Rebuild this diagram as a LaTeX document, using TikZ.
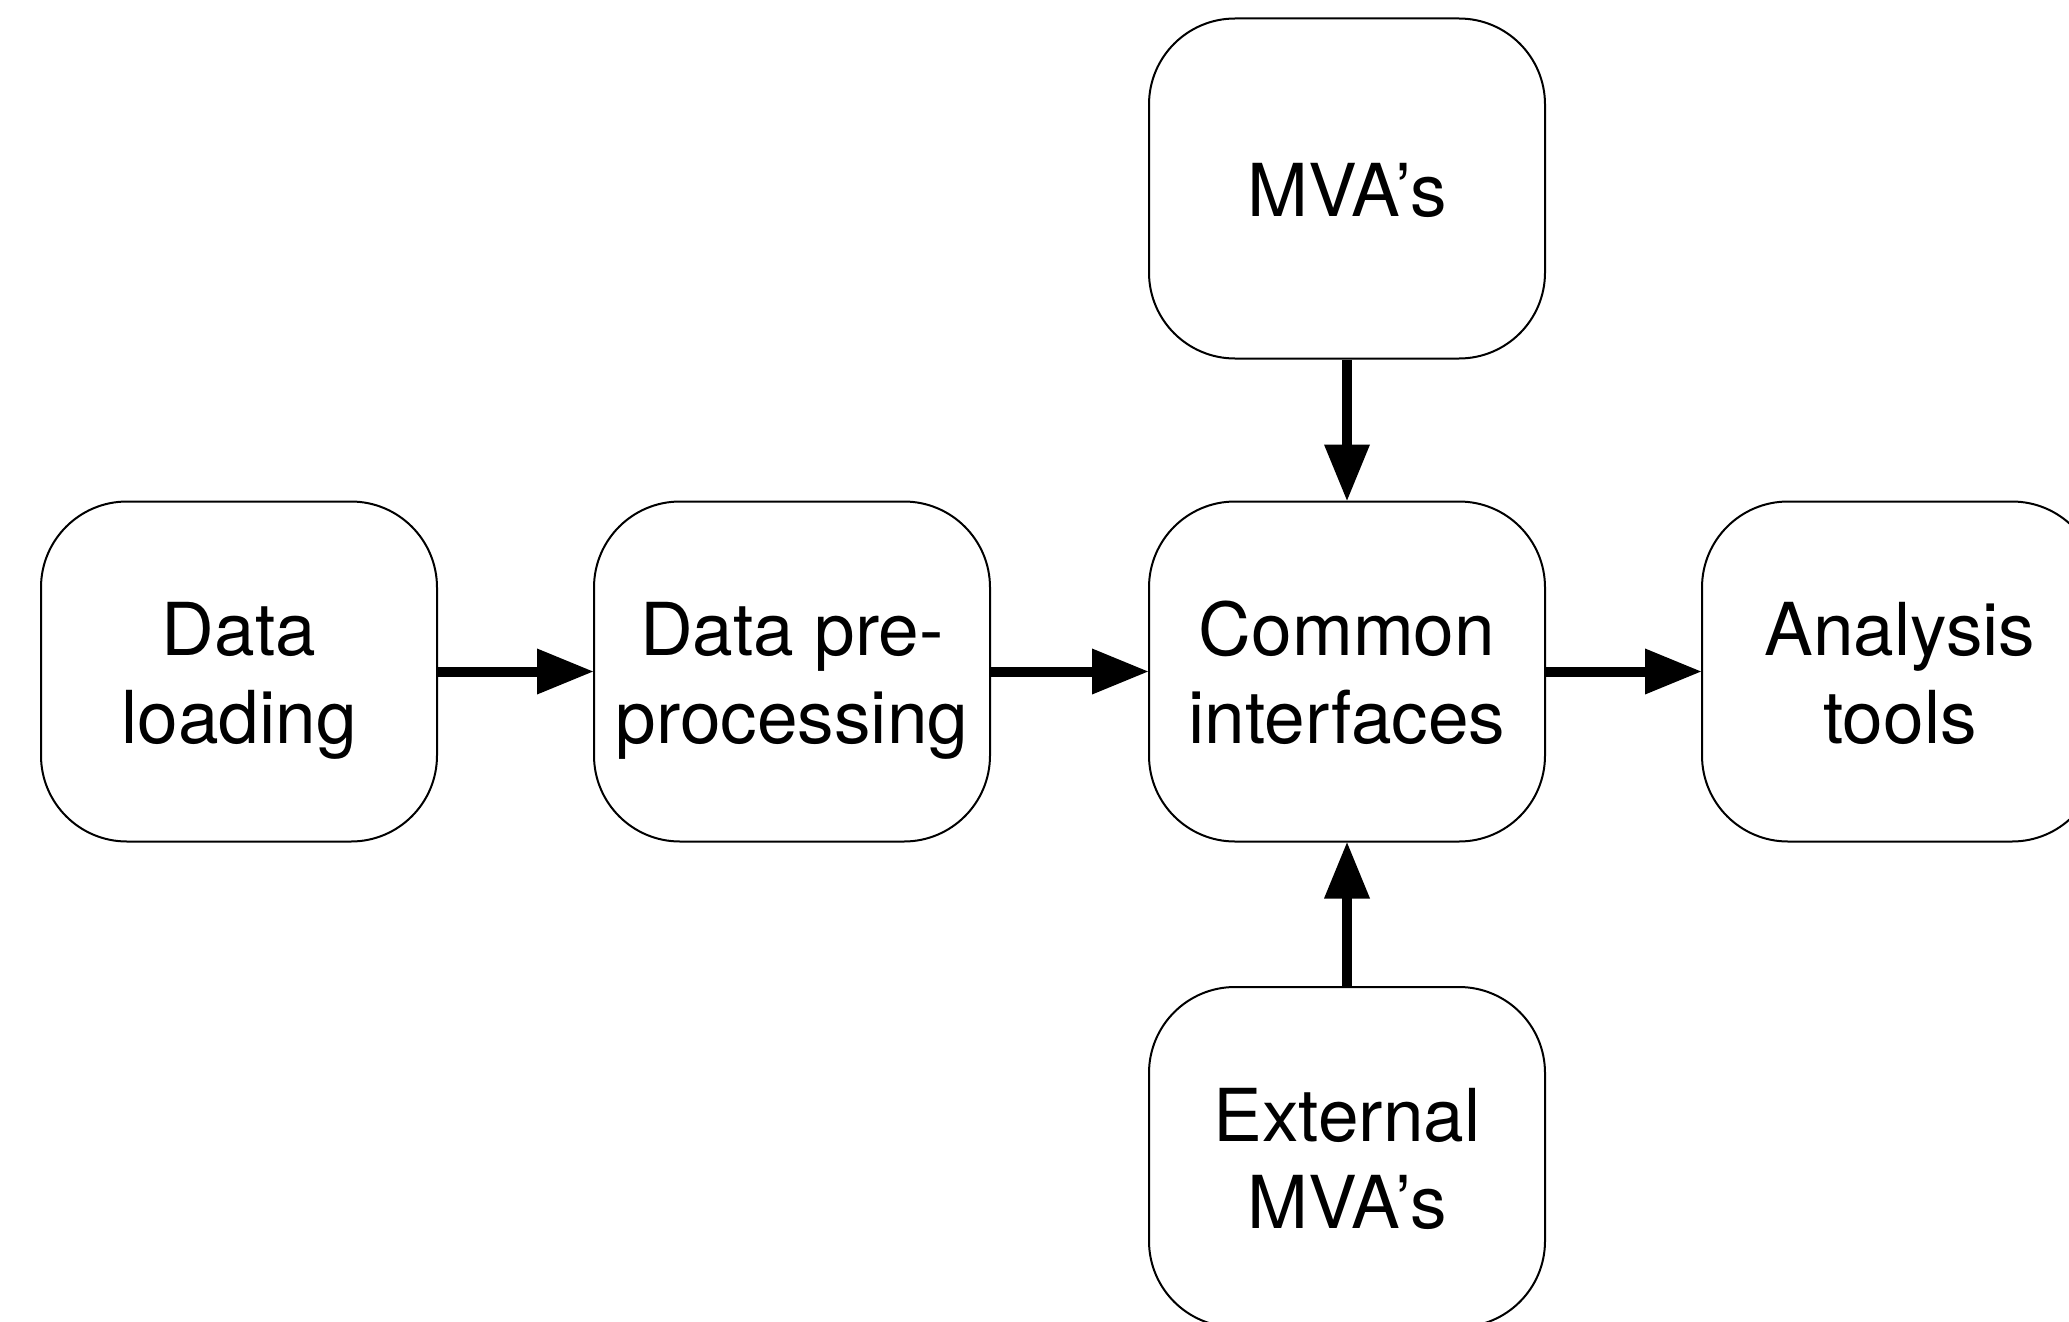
\documentclass[tikz,border=0pt]{standalone}
\usepackage{fontspec}
\setmainfont{TeX Gyre Heros}
\usetikzlibrary{arrows.meta}
\newcommand{\topstrut}{\rule{0pt}{73pt}}
\newcommand{\botstrut}{\rule[-17pt]{0pt}{17pt}}
\begin{document}
\begin{tikzpicture}[x=1pt,y=-1pt,
  blockbox/.style={draw=black,line width=2pt,rounded corners=86pt,fill=white,
    minimum width=396pt,minimum height=340pt,align=center,inner sep=0pt,
    font=\fontsize{73}{87.5}\selectfont},
  flowarrow/.style={line width=10pt,-{Triangle[length=57pt,width=43pt]},shorten >=-1pt}]
\useasboundingbox (0,0) rectangle (2069,1322);
\clip (0,0) rectangle (2069,1322);
\node[blockbox] (dl) at (239,671.5) {\topstrut Data\\loading\botstrut};
\node[blockbox] (dp) at (792,671.5) {\topstrut Data pre-\\processing\botstrut};
\node[blockbox] (ci) at (1347,671.5) {\topstrut Common\\interfaces\botstrut};
\node[blockbox] (at) at (1900,671.5) {\topstrut Analysis\\tools\botstrut};
\node[blockbox] (mv) at (1347,188.5) {\topstrut MVA’s\botstrut};
\node[blockbox] (ex) at (1347,1157) {\topstrut External\\MVA’s\botstrut};
\draw[flowarrow] (dl) -- (dp);
\draw[flowarrow] (dp) -- (ci);
\draw[flowarrow] (ci) -- (at);
\draw[flowarrow] (mv) -- (ci);
\draw[flowarrow] (ex) -- (ci);
\end{tikzpicture}
\end{document}
